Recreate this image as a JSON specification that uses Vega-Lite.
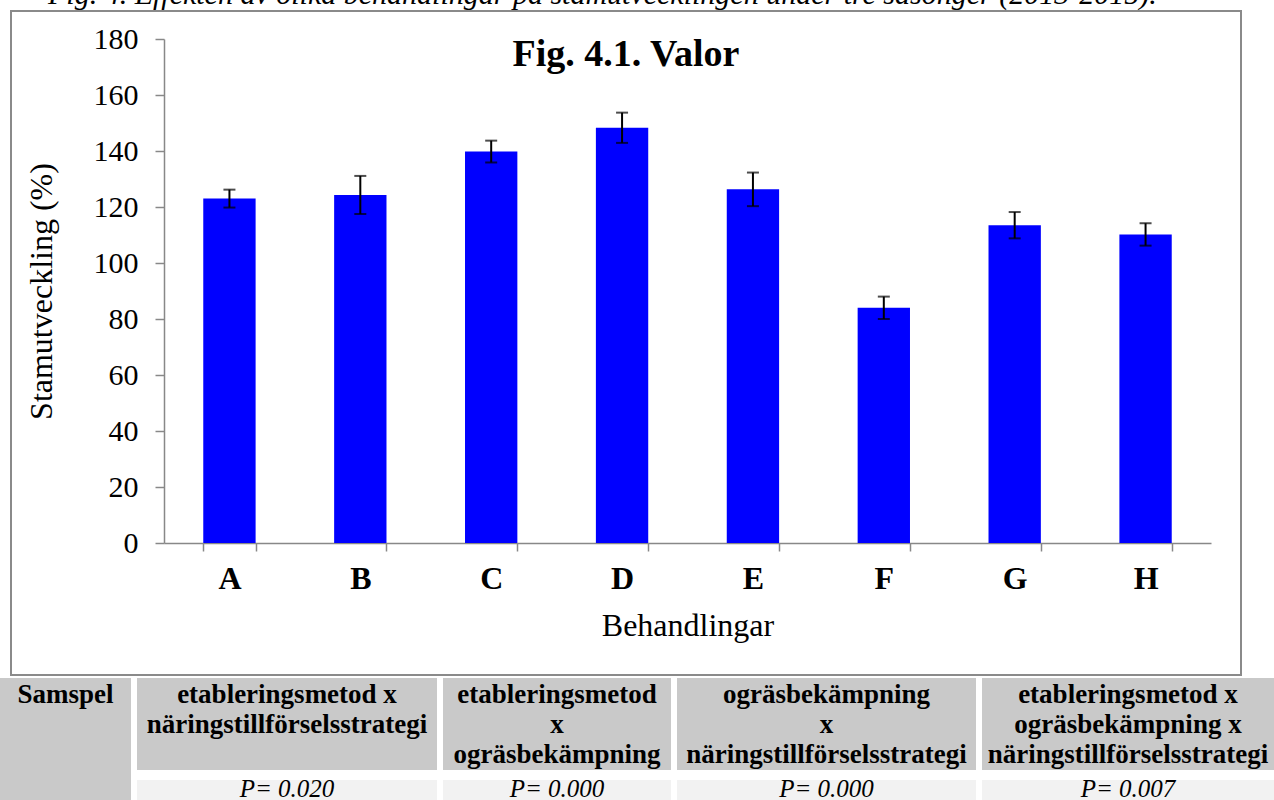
{
  "$schema": "https://vega.github.io/schema/vega-lite/v6.json",
  "padding": {"left": 0, "top": -20, "right": 0, "bottom": 0},
  "background": "white",
  "title": {"text": "Fig. 4. Effekten av olika behandlingar på stamutvecklingen under tre säsonger (2013-2015).", "anchor": "start", "dx": 48, "fontSize": 30, "fontStyle": "italic", "fontWeight": "normal", "font": "Liberation Serif", "offset": 0, "color": "black"},
  "datasets": {
    "bars": [
      {"t": "A", "v": 123.0, "e": 3.2},
      {"t": "B", "v": 124.3, "e": 6.8},
      {"t": "C", "v": 139.8, "e": 3.9},
      {"t": "D", "v": 148.3, "e": 5.4},
      {"t": "E", "v": 126.3, "e": 6.0},
      {"t": "F", "v": 84.0, "e": 4.0},
      {"t": "G", "v": 113.5, "e": 4.7},
      {"t": "H", "v": 110.2, "e": 4.0}
    ],
    "table": [
      {"col": "s", "row": "h", "label": "Samspel"},
      {"col": "c1", "row": "h", "label": "etableringsmetod x\nnäringstillförselsstrategi"},
      {"col": "c2", "row": "h", "label": "etableringsmetod\nx\nogräsbekämpning"},
      {"col": "c3", "row": "h", "label": "ogräsbekämpning\nx\nnäringstillförselsstrategi"},
      {"col": "c4", "row": "h", "label": "etableringsmetod x\nogräsbekämpning x\nnäringstillförselsstrategi"},
      {"col": "c1", "row": "p", "label": "P= 0.020"},
      {"col": "c2", "row": "p", "label": "P= 0.000"},
      {"col": "c3", "row": "p", "label": "P= 0.000"},
      {"col": "c4", "row": "p", "label": "P= 0.007"}
    ]
  },
  "spacing": 2,
  "vconcat": [
    {
      "spacing": 0,
      "hconcat": [
        {
          "width": 10, "height": 10,
          "data": {"values": [{"k": ""}]},
          "mark": {"type": "text"},
          "encoding": {"text": {"field": "k"}},
          "view": {"stroke": null}
        },
        {
          "width": 1230,
          "height": 664,
          "view": {"stroke": "#8a8a8a", "strokeWidth": 2},
          "title": {"text": "Fig. 4.1. Valor", "fontSize": 38, "font": "Liberation Serif", "fontWeight": "bold", "color": "black", "anchor": "middle", "offset": -63},
          "data": {"name": "bars"},
          "encoding": {
            "x": {
              "field": "t", "type": "nominal", "sort": null,
              "scale": {"range": [153, 1200], "paddingInner": 0.6, "paddingOuter": 0.3},
              "axis": {
                "title": "Behandlingar", "offset": -132, "labelAngle": 0,
                "tickBand": "extent", "tickSize": 8, "tickColor": "#888888", "tickWidth": 1.5,
                "domainColor": "#888888", "domainWidth": 1.5,
                "labelFont": "Liberation Serif", "labelFontSize": 32, "labelFontWeight": "bold", "labelColor": "black", "labelPadding": 12,
                "titleFont": "Liberation Serif", "titleFontSize": 32, "titleFontWeight": "normal", "titleColor": "black", "titlePadding": 16
              }
            },
            "y": {
              "field": "v", "type": "quantitative",
              "scale": {"domain": [0, 180], "range": [532, 28], "nice": false},
              "axis": {
                "title": "Stamutveckling (%)", "offset": -153, "values": [0, 20, 40, 60, 80, 100, 120, 140, 160, 180],
                "grid": false, "tickSize": 9, "tickColor": "#888888", "tickWidth": 1.5,
                "domainColor": "#888888", "domainWidth": 1.5,
                "labelFont": "Liberation Serif", "labelFontSize": 30, "labelColor": "black", "labelPadding": 17,
                "titleFont": "Liberation Serif", "titleFontSize": 32, "titleFontWeight": "normal", "titleColor": "black", "titlePadding": 35
              }
            }
          },
          "layer": [
            {"mark": {"type": "bar", "color": "#0000ff"}},
            {
              "mark": {"type": "errorbar", "color": "black", "ticks": {"size": 12, "thickness": 2, "color": "black"}, "rule": {"strokeWidth": 2, "color": "black"}},
              "encoding": {"yError": {"field": "e"}}
            }
          ]
        }
      ]
    },
    {
      "spacing": 6,
      "hconcat": [
        {
          "width": 131, "height": 123,
          "view": {"fill": "#c9c9c9", "stroke": null},
          "data": {"name": "table"},
          "transform": [{"filter": "datum.col == 's'"}],
          "mark": {"type": "text", "font": "Liberation Serif", "fontSize": 27, "fontWeight": "bold", "color": "black", "baseline": "top", "align": "center", "dy": -57.5, "lineBreak": "\n", "lineHeight": 30},
          "encoding": {"text": {"field": "label"}}
        },
        {
          "spacing": 6,
          "vconcat": [
            {
              "width": 300, "height": 92,
              "view": {"fill": "#c9c9c9", "stroke": null},
              "data": {"name": "table"},
              "transform": [{"filter": "datum.col == 'c1' && datum.row == 'h'"}],
              "mark": {"type": "text", "font": "Liberation Serif", "fontSize": 27, "fontWeight": "bold", "color": "black", "baseline": "top", "align": "center", "dy": -42, "lineBreak": "\n", "lineHeight": 30},
              "encoding": {"text": {"field": "label"}}
            },
            {
              "width": 300, "height": 25,
              "view": {"fill": "#f2f2f2", "stroke": null},
              "data": {"name": "table"},
              "transform": [{"filter": "datum.col == 'c1' && datum.row == 'p'"}],
              "mark": {"type": "text", "font": "Liberation Serif", "fontSize": 25, "fontStyle": "italic", "color": "black", "baseline": "middle", "align": "center", "dy": -4},
              "encoding": {"text": {"field": "label"}}
            }
          ]
        },
        {
          "spacing": 6,
          "vconcat": [
            {
              "width": 228, "height": 92,
              "view": {"fill": "#c9c9c9", "stroke": null},
              "data": {"name": "table"},
              "transform": [{"filter": "datum.col == 'c2' && datum.row == 'h'"}],
              "mark": {"type": "text", "font": "Liberation Serif", "fontSize": 27, "fontWeight": "bold", "color": "black", "baseline": "top", "align": "center", "dy": -42, "lineBreak": "\n", "lineHeight": 30},
              "encoding": {"text": {"field": "label"}}
            },
            {
              "width": 228, "height": 25,
              "view": {"fill": "#f2f2f2", "stroke": null},
              "data": {"name": "table"},
              "transform": [{"filter": "datum.col == 'c2' && datum.row == 'p'"}],
              "mark": {"type": "text", "font": "Liberation Serif", "fontSize": 25, "fontStyle": "italic", "color": "black", "baseline": "middle", "align": "center", "dy": -4},
              "encoding": {"text": {"field": "label"}}
            }
          ]
        },
        {
          "spacing": 6,
          "vconcat": [
            {
              "width": 299, "height": 92,
              "view": {"fill": "#c9c9c9", "stroke": null},
              "data": {"name": "table"},
              "transform": [{"filter": "datum.col == 'c3' && datum.row == 'h'"}],
              "mark": {"type": "text", "font": "Liberation Serif", "fontSize": 27, "fontWeight": "bold", "color": "black", "baseline": "top", "align": "center", "dy": -42, "lineBreak": "\n", "lineHeight": 30},
              "encoding": {"text": {"field": "label"}}
            },
            {
              "width": 299, "height": 25,
              "view": {"fill": "#f2f2f2", "stroke": null},
              "data": {"name": "table"},
              "transform": [{"filter": "datum.col == 'c3' && datum.row == 'p'"}],
              "mark": {"type": "text", "font": "Liberation Serif", "fontSize": 25, "fontStyle": "italic", "color": "black", "baseline": "middle", "align": "center", "dy": -4},
              "encoding": {"text": {"field": "label"}}
            }
          ]
        },
        {
          "spacing": 6,
          "vconcat": [
            {
              "width": 292, "height": 92,
              "view": {"fill": "#c9c9c9", "stroke": null},
              "data": {"name": "table"},
              "transform": [{"filter": "datum.col == 'c4' && datum.row == 'h'"}],
              "mark": {"type": "text", "font": "Liberation Serif", "fontSize": 27, "fontWeight": "bold", "color": "black", "baseline": "top", "align": "center", "dy": -42, "lineBreak": "\n", "lineHeight": 30},
              "encoding": {"text": {"field": "label"}}
            },
            {
              "width": 292, "height": 25,
              "view": {"fill": "#f2f2f2", "stroke": null},
              "data": {"name": "table"},
              "transform": [{"filter": "datum.col == 'c4' && datum.row == 'p'"}],
              "mark": {"type": "text", "font": "Liberation Serif", "fontSize": 25, "fontStyle": "italic", "color": "black", "baseline": "middle", "align": "center", "dy": -4},
              "encoding": {"text": {"field": "label"}}
            }
          ]
        }
      ]
    }
  ]
}
